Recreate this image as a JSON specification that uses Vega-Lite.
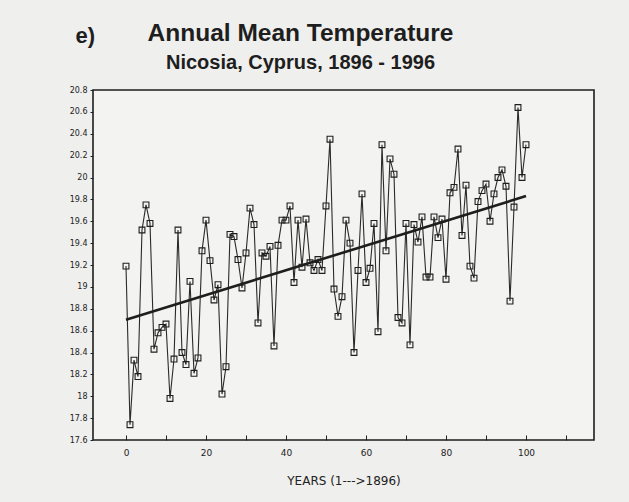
{
  "$schema": "https://vega.github.io/schema/vega-lite/v6.json",
  "autosize": {"type": "none"},
  "width": 501,
  "height": 350,
  "padding": {"left": 93, "top": 90, "right": 35, "bottom": 62},
  "background": "#efefed",
  "title": {
    "text": "Annual Mean Temperature",
    "subtitle": "Nicosia, Cyprus, 1896 - 1996",
    "anchor": "middle",
    "dx": -43,
    "offset": -50,
    "font": "Liberation Sans",
    "fontSize": 24.5,
    "fontWeight": "bold",
    "color": "#1e1e1e",
    "subtitleFont": "Liberation Sans",
    "subtitleFontSize": 20,
    "subtitleFontWeight": "bold",
    "subtitleColor": "#1e1e1e",
    "subtitlePadding": 7
  },
  "config": {
    "view": {"stroke": "#1e1e1e", "strokeWidth": 1.6, "fill": "#f3f3f1"},
    "axis": {"labelFont": "DejaVu Sans", "labelColor": "#222", "tickColor": "#222", "domain": false, "grid": false}
  },
  "datasets": {
    "temps": [
      {"year": 0, "temp": 19.19}, {"year": 1, "temp": 17.74}, {"year": 2, "temp": 18.33}, {"year": 3, "temp": 18.18},
      {"year": 4, "temp": 19.52}, {"year": 5, "temp": 19.75}, {"year": 6, "temp": 19.58}, {"year": 7, "temp": 18.43},
      {"year": 8, "temp": 18.58}, {"year": 9, "temp": 18.63}, {"year": 10, "temp": 18.66}, {"year": 11, "temp": 17.98},
      {"year": 12, "temp": 18.34}, {"year": 13, "temp": 19.52}, {"year": 14, "temp": 18.40}, {"year": 15, "temp": 18.29},
      {"year": 16, "temp": 19.05}, {"year": 17, "temp": 18.21}, {"year": 18, "temp": 18.35}, {"year": 19, "temp": 19.33},
      {"year": 20, "temp": 19.61}, {"year": 21, "temp": 19.24}, {"year": 22, "temp": 18.88}, {"year": 23, "temp": 19.02},
      {"year": 24, "temp": 18.02}, {"year": 25, "temp": 18.27}, {"year": 26, "temp": 19.48}, {"year": 27, "temp": 19.46},
      {"year": 28, "temp": 19.25}, {"year": 29, "temp": 18.99}, {"year": 30, "temp": 19.31}, {"year": 31, "temp": 19.72},
      {"year": 32, "temp": 19.57}, {"year": 33, "temp": 18.67}, {"year": 34, "temp": 19.31}, {"year": 35, "temp": 19.28},
      {"year": 36, "temp": 19.37}, {"year": 37, "temp": 18.46}, {"year": 38, "temp": 19.38}, {"year": 39, "temp": 19.61},
      {"year": 40, "temp": 19.61}, {"year": 41, "temp": 19.74}, {"year": 42, "temp": 19.04}, {"year": 43, "temp": 19.61},
      {"year": 44, "temp": 19.18}, {"year": 45, "temp": 19.62}, {"year": 46, "temp": 19.22}, {"year": 47, "temp": 19.15},
      {"year": 48, "temp": 19.25}, {"year": 49, "temp": 19.15}, {"year": 50, "temp": 19.74}, {"year": 51, "temp": 20.35},
      {"year": 52, "temp": 18.98}, {"year": 53, "temp": 18.73}, {"year": 54, "temp": 18.91}, {"year": 55, "temp": 19.61},
      {"year": 56, "temp": 19.40}, {"year": 57, "temp": 18.40}, {"year": 58, "temp": 19.15}, {"year": 59, "temp": 19.85},
      {"year": 60, "temp": 19.04}, {"year": 61, "temp": 19.17}, {"year": 62, "temp": 19.58}, {"year": 63, "temp": 18.59},
      {"year": 64, "temp": 20.30}, {"year": 65, "temp": 19.33}, {"year": 66, "temp": 20.17}, {"year": 67, "temp": 20.03},
      {"year": 68, "temp": 18.72}, {"year": 69, "temp": 18.67}, {"year": 70, "temp": 19.58}, {"year": 71, "temp": 18.47},
      {"year": 72, "temp": 19.57}, {"year": 73, "temp": 19.41}, {"year": 74, "temp": 19.64}, {"year": 75, "temp": 19.09},
      {"year": 76, "temp": 19.09}, {"year": 77, "temp": 19.64}, {"year": 78, "temp": 19.45}, {"year": 79, "temp": 19.62},
      {"year": 80, "temp": 19.07}, {"year": 81, "temp": 19.86}, {"year": 82, "temp": 19.91}, {"year": 83, "temp": 20.26},
      {"year": 84, "temp": 19.47}, {"year": 85, "temp": 19.93}, {"year": 86, "temp": 19.19}, {"year": 87, "temp": 19.08},
      {"year": 88, "temp": 19.78}, {"year": 89, "temp": 19.88}, {"year": 90, "temp": 19.94}, {"year": 91, "temp": 19.60},
      {"year": 92, "temp": 19.85}, {"year": 93, "temp": 20.00}, {"year": 94, "temp": 20.07}, {"year": 95, "temp": 19.92},
      {"year": 96, "temp": 18.87}, {"year": 97, "temp": 19.73}, {"year": 98, "temp": 20.64}, {"year": 99, "temp": 20.00},
      {"year": 100, "temp": 20.30}
    ],
    "trend": [{"year": 0, "temp": 18.70}, {"year": 100, "temp": 19.83}],
    "zeroline": [{"year": -1.25}]
  },
  "encoding": {
    "x": {
      "field": "year", "type": "quantitative",
      "scale": {"domain": [-8.25, 117], "nice": false, "zero": false},
      "axis": {
        "values": [0, 10, 20, 30, 40, 50, 60, 70, 80, 90, 100, 110],
        "labelExpr": "datum.value % 20 == 0 ? datum.label : ''",
        "tickSize": -5,
        "labelPadding": 13,
        "labelFontSize": 9,
        "title": "YEARS (1--->1896)",
        "titleFont": "DejaVu Sans",
        "titleFontWeight": "normal",
        "titleFontSize": 12,
        "titleColor": "#222",
        "titlePadding": 18
      }
    },
    "y": {
      "field": "temp", "type": "quantitative",
      "scale": {"domain": [17.6, 20.8], "nice": false, "zero": false},
      "axis": {
        "values": [17.6, 17.8, 18, 18.2, 18.4, 18.6, 18.8, 19, 19.2, 19.4, 19.6, 19.8, 20, 20.2, 20.4, 20.6, 20.8],
        "format": ".1~f",
        "tickSize": 3,
        "labelPadding": 3,
        "labelFontSize": 8,
        "title": "e)",
        "titleAngle": 0,
        "titleAlign": "left",
        "titleBaseline": "alphabetic",
        "titleX": -18,
        "titleY": -48,
        "titleFont": "Liberation Sans",
        "titleFontSize": 22,
        "titleFontWeight": "bold",
        "titleColor": "#1e1e1e"
      }
    }
  },
  "layer": [
    {
      "data": {"name": "zeroline"},
      "mark": {"type": "rule", "color": "#222", "strokeWidth": 1.3},
      "encoding": {"y": {"datum": 17.6}, "y2": {"datum": 20.8}}
    },
    {
      "data": {"name": "temps"},
      "mark": {"type": "line", "color": "#2a2a2a", "strokeWidth": 1.1}
    },
    {
      "data": {"name": "temps"},
      "mark": {"type": "point", "shape": "square", "size": 34, "filled": false, "color": "#1e1e1e", "strokeWidth": 1.1, "opacity": 1}
    },
    {
      "data": {"name": "trend"},
      "mark": {"type": "line", "color": "#1e1e1e", "strokeWidth": 2.6}
    }
  ]
}
